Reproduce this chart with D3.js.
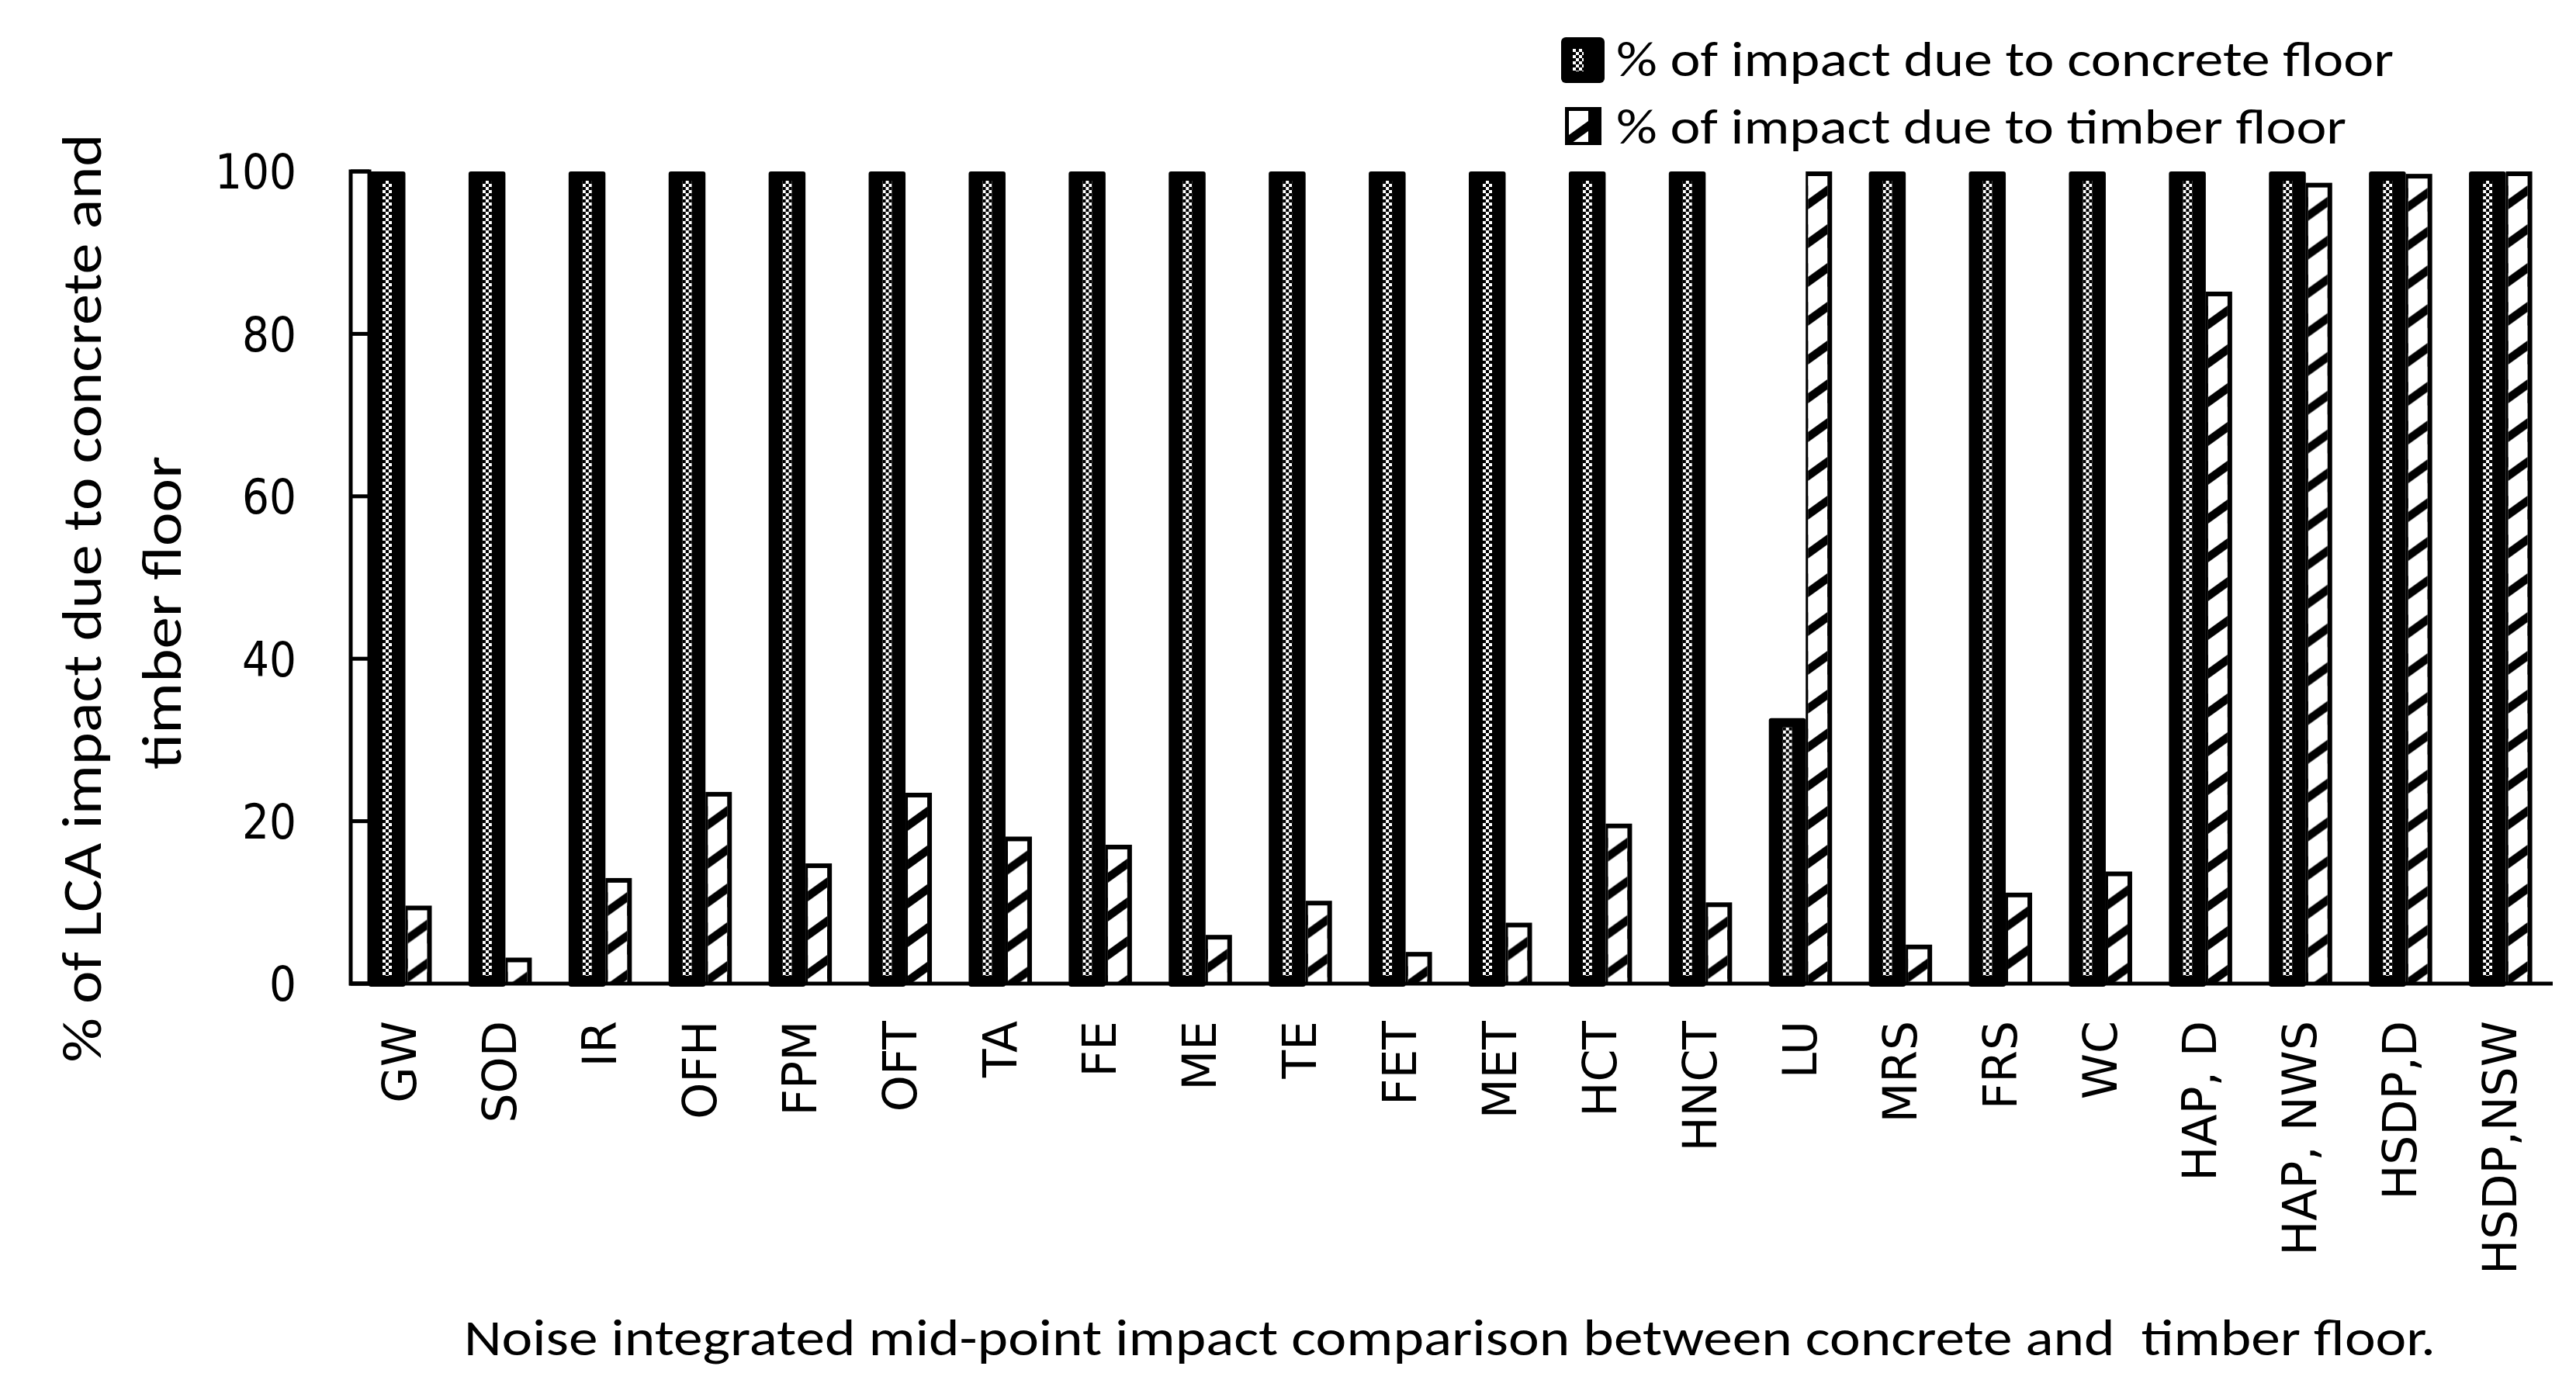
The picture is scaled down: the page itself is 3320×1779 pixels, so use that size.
<!DOCTYPE html>
<html>
<head>
<meta charset="utf-8">
<script src="https://cdn.jsdelivr.net/npm/d3@7"></script>
<style>
  body { margin: 0; background: #fff; }
  text { fill: #000; }
</style>
</head>
<body>
<div id="chart"></div>
<script>
// categories and values
const categories = ["GW", "SOD", "IR", "OFH", "FPM", "OFT", "TA", "FE", "ME", "TE", "FET", "MET",
  "HCT", "HNCT", "LU", "MRS", "FRS", "WC", "HAP, D", "HAP, NWS", "HSDP,D", "HSDP,NSW"];
const concrete = [100, 100, 100, 100, 100, 100, 100, 100, 100, 100, 100, 100,
  100, 100, 32.7, 100, 100, 100, 100, 100, 100, 100];
const timber = [9.6, 3.2, 13.0, 23.6, 14.8, 23.5, 18.1, 17.1, 6.0, 10.2, 3.9, 7.5,
  19.7, 10.0, 100, 4.8, 11.2, 13.8, 85.2, 98.6, 99.7, 100];
const yTicks = [0, 20, 40, 60, 80, 100];
const seriesNames = ["% of impact due to concrete floor", "% of impact due to timber floor"];

const W = 3320, H = 1779;
const calibri = "Carlito, 'Liberation Sans Narrow', 'Open Sans', sans-serif";
const verdana = "'DejaVu Sans', Verdana, sans-serif";

const svg = d3.select("#chart").append("svg")
  .attr("width", W).attr("height", H);

const defs = svg.append("defs");

// checker column used inside the concrete bars
const chk = defs.append("pattern").attr("id", "checker")
  .attr("patternUnits", "userSpaceOnUse").attr("width", 8).attr("height", 8);
chk.append("rect").attr("width", 8).attr("height", 8).attr("fill", "#000");
chk.append("rect").attr("width", 4).attr("height", 4).attr("fill", "#fff");
chk.append("rect").attr("x", 4).attr("y", 4).attr("width", 4).attr("height", 4).attr("fill", "#fff");

// slanted hatch used inside the timber bars
const hw = 25;
const hatch = defs.append("pattern").attr("id", "hatch")
  .attr("patternUnits", "userSpaceOnUse").attr("x", 3).attr("y", 0)
  .attr("width", hw).attr("height", 50);
hatch.append("rect").attr("width", hw).attr("height", 50).attr("fill", "#fff");
hatch.append("polygon").attr("fill", "#000")
  .attr("points", `0,36 ${hw},18 ${hw},31 0,49`);

const x = d3.scaleBand().domain(categories).range([452, 3288]);
const y = d3.scaleLinear().domain([0, 100]).range([1268, 221]);
const y0 = y(0);

// y axis drawn as a narrow box with ticks across it
svg.append("rect")
  .attr("x", 452).attr("y", y(100)).attr("width", 24).attr("height", y0 - y(100))
  .attr("fill", "#fff").attr("stroke", "#000").attr("stroke-width", 5);
svg.selectAll(".ytick").data(yTicks).enter().append("line")
  .attr("x1", 452).attr("x2", 476)
  .attr("y1", d => y(d)).attr("y2", d => y(d))
  .attr("stroke", "#000").attr("stroke-width", 5);
svg.selectAll(".ylab").data(yTicks).enter().append("text")
  .attr("x", 382).attr("y", d => y(d)).attr("dy", "0.36em")
  .attr("text-anchor", "end")
  .attr("font-family", verdana).attr("font-size", 62)
  .attr("textLength", d => String(d).length * 35)
  .attr("lengthAdjust", "spacingAndGlyphs")
  .text(d => d);

// bars
const cw = 47.5, tw = 34;
const groups = svg.selectAll(".grp").data(categories).enter().append("g");

groups.each(function(c, i) {
  const g = d3.select(this);
  const cx = x(c) + 23;
  const cTop = y(concrete[i]);
  g.append("rect")
    .attr("x", cx).attr("y", cTop).attr("width", cw).attr("height", y0 - cTop + 4)
    .attr("rx", 3).attr("fill", "#000");
  g.append("g").attr("transform", `translate(${cx + 18},${cTop})`)
    .append("rect")
    .attr("x", 0).attr("y", 12).attr("width", 12)
    .attr("height", Math.max(0, y0 - cTop - 22))
    .attr("fill", "url(#checker)");

  const tx = cx + cw;
  const tTop = y(timber[i]);
  const tg = g.append("g").attr("transform", `translate(${tx},${tTop})`);
  tg.append("rect")
    .attr("x", 0).attr("y", 0).attr("width", tw).attr("height", y0 - tTop)
    .attr("fill", "#000");
  tg.append("rect")
    .attr("x", 3).attr("y", 6).attr("width", tw - 9)
    .attr("height", Math.max(0, y0 - tTop - 6))
    .attr("fill", "url(#hatch)");
});

// x axis line
svg.append("line")
  .attr("x1", 450).attr("x2", 3290).attr("y1", y0).attr("y2", y0)
  .attr("stroke", "#000").attr("stroke-width", 5);

// category labels, rotated
svg.selectAll(".xlab").data(categories).enter().append("text")
  .attr("transform", c => `translate(${x(c) + x.bandwidth() / 2 - 2},1316) rotate(-90)`)
  .attr("dy", "0.36em")
  .attr("text-anchor", "end")
  .attr("font-family", verdana).attr("font-size", 60)
  .text(c => c);

// y axis title (two lines)
svg.append("text")
  .attr("transform", "translate(130,771) rotate(-90)")
  .attr("text-anchor", "middle")
  .attr("font-family", calibri).attr("font-size", 72)
  .attr("textLength", 1197).attr("lengthAdjust", "spacingAndGlyphs")
  .text("% of LCA impact due to concrete and");
svg.append("text")
  .attr("transform", "translate(233,790) rotate(-90)")
  .attr("text-anchor", "middle")
  .attr("font-family", calibri).attr("font-size", 72)
  .attr("textLength", 404).attr("lengthAdjust", "spacingAndGlyphs")
  .text("timber floor");

// x axis title (keeps the double space of the original)
svg.append("text")
  .attr("x", 598).attr("y", 1747)
  .style("white-space", "pre")
  .attr("font-family", calibri).attr("font-size", 66)
  .attr("textLength", 2541).attr("lengthAdjust", "spacingAndGlyphs")
  .text("Noise integrated mid-point impact comparison between concrete and  timber floor.");

// legend
const leg = svg.append("g");
leg.append("rect").attr("x", 2012).attr("y", 48).attr("width", 56).attr("height", 59)
  .attr("rx", 6).attr("fill", "#000");
leg.append("g").attr("transform", "translate(2027,63)")
  .append("rect").attr("width", 14).attr("height", 29).attr("fill", "url(#checker)");
leg.append("rect").attr("x", 2017).attr("y", 138).attr("width", 47).attr("height", 49)
  .attr("fill", "#000");
leg.append("g").attr("transform", "translate(2019,138)")
  .append("rect").attr("x", 3).attr("y", 5).attr("width", hw).attr("height", 40)
  .attr("fill", "url(#hatch)");
const legW = [1002, 941];
leg.selectAll(".lt").data(seriesNames).enter().append("text")
  .attr("x", 2083).attr("y", (d, i) => [98, 185][i])
  .attr("font-family", calibri).attr("font-size", 64)
  .attr("textLength", (d, i) => legW[i]).attr("lengthAdjust", "spacingAndGlyphs")
  .text(d => d);
</script>
</body>
</html>
